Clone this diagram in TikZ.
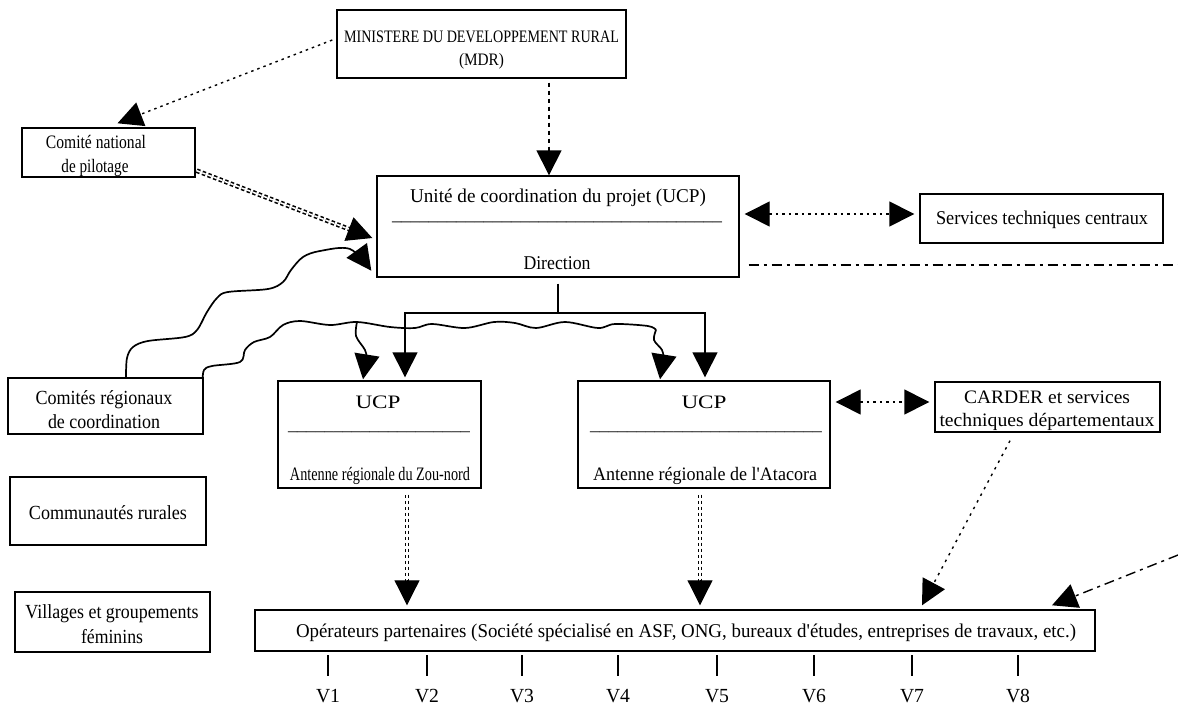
\documentclass[tikz,border=0pt]{standalone}
\usepackage{fontspec}
\setmainfont{Liberation Serif}[Ligatures=TeXOff]
\usetikzlibrary{arrows.meta,calc}
\newcommand\fitw[2]{\resizebox*{#1pt}{\totalheight}{#2}}
\newcommand\fsz[1]{\fontsize{#1}{#1}\selectfont}
\begin{document}
\begin{tikzpicture}[x=1pt,y=-1pt,
  box/.style={draw,line width=1.4pt,inner sep=0pt},
  txt/.style={inner sep=0pt,anchor=base},
  hd/.style={-{Triangle[width=25pt,length=25pt]}},
  dhd/.style={{Triangle[width=25pt,length=25pt]}-{Triangle[width=25pt,length=25pt]}},
  dots/.style={line width=1.4pt,dash pattern=on 2.5pt off 4pt},
  vdots/.style={line width=1.5pt,dash pattern=on 4pt off 4pt},
  ddot/.style={double,line width=1.6pt,double distance=1.5pt,dash pattern=on 3.5pt off 2.5pt},
  ddash/.style={line width=1.4pt,dash pattern=on 10pt off 5pt on 3pt off 5pt},
  wave/.style={line width=1.7pt},
  solid1/.style={line width=1.4pt}]
\fill[white] (0,0) rectangle (1178,706);
\useasboundingbox (0,0) rectangle (1178,706);

% ---------- boxes ----------
\node[box,minimum width=289pt,minimum height=68pt] (mdr) at (481.5,44) {};
\node[box,minimum width=173pt,minimum height=49pt] (cnp) at (108.5,152.5) {};
\node[box,minimum width=362pt,minimum height=101pt] (ucp) at (558,226.5) {};
\node[box,minimum width=243pt,minimum height=49pt] (svc) at (1041.5,218.5) {};
\node[box,minimum width=195pt,minimum height=56pt] (crr) at (105.5,406) {};
\node[box,minimum width=196pt,minimum height=68pt] (com) at (108,511) {};
\node[box,minimum width=195pt,minimum height=60pt] (vil) at (112.5,622) {};
\node[box,minimum width=203pt,minimum height=107pt] (zou) at (379.5,434.5) {};
\node[box,minimum width=252pt,minimum height=107pt] (ata) at (704,434.5) {};
\node[box,minimum width=225pt,minimum height=50pt] (car) at (1047.5,407) {};
\node[box,minimum width=840pt,minimum height=41pt] (ope) at (675,630.5) {};

% ---------- texts ----------
\node[txt] (mdr1) at (481.5,43) {\fsz{17.5}\fitw{275}{MINISTERE DU DEVELOPPEMENT RURAL}};
\node[txt] (mdr2) at (481.5,66) {\fsz{17.5}\fitw{45}{(MDR)}};
\node[txt] (cnp1) at (96,149) {\fsz{19}\fitw{100}{Comité national}};
\node[txt] (cnp2) at (95,172) {\fsz{19}\fitw{67}{de pilotage}};
\node[txt] (ucp1) at (558,202) {\fsz{19.5}\fitw{296}{Unité de coordination du projet (UCP)}};
\node[txt] (ucp2) at (557,221) {\fsz{18}\fitw{330}{\_\_\_\_\_\_\_\_\_\_\_\_\_\_\_\_\_\_\_\_\_\_\_\_\_\_\_\_\_\_\_\_\_\_\_\_}};
\node[txt] (ucp3) at (557,269) {\fsz{19.5}\fitw{67}{Direction}};
\node[txt] (svc1) at (1042,225) {\fsz{19.5}\fitw{212}{Services techniques centraux}};
\node[txt] (crr1) at (104,404) {\fsz{20}\fitw{137}{Comités régionaux}};
\node[txt] (crr2) at (104,428) {\fsz{20}\fitw{112}{de coordination}};
\node[txt] (com1) at (108,519) {\fsz{20}\fitw{158}{Communautés rurales}};
\node[txt] (vil1) at (112,618) {\fsz{20}\fitw{173}{Villages et groupements}};
\node[txt] (vil2) at (112,643) {\fsz{20}\fitw{62}{féminins}};
\node[txt] (zou1) at (378,408) {\fsz{19}\fitw{45}{UCP}};
\node[txt] (zou2) at (379,430) {\fsz{17}\fitw{182}{\_\_\_\_\_\_\_\_\_\_\_\_\_\_\_\_\_\_\_\_}};
\node[txt] (zou3) at (380,480) {\fsz{19}\fitw{180}{Antenne régionale du Zou-nord}};
\node[txt] (ata1) at (704,408) {\fsz{19}\fitw{45}{UCP}};
\node[txt] (ata2) at (706,430) {\fsz{17}\fitw{232}{\_\_\_\_\_\_\_\_\_\_\_\_\_\_\_\_\_\_\_\_\_\_\_\_\_}};
\node[txt] (ata3) at (705,480) {\fsz{19}\fitw{224}{Antenne régionale de l'Atacora}};
\node[txt] (car1) at (1047,403) {\fsz{19}\fitw{166}{CARDER et services}};
\node[txt] (car2) at (1047,426) {\fsz{19}\fitw{215}{techniques départementaux}};
\node[txt] (ope1) at (686,637) {\fsz{19.5}\fitw{780}{Opérateurs partenaires (Société spécialisé en ASF, ONG, bureaux d'études, entreprises de travaux, etc.)}};
\foreach \n/\x in {1/328,2/427,3/522,4/618,5/717,6/814,7/912,8/1018}{
  \node[txt] (v\n) at (\x,702) {\fsz{20}\fitw{24}{V\n}};
  \draw[solid1] ([yshift=13pt]v\n.north) -- ++(0,-21);
}

% ---------- named end points ----------
\coordinate (a1s) at ([xshift=-4pt,yshift=4pt]mdr.west);
\coordinate (a1t) at ([shift={(9pt,4pt)}]cnp.north);
\coordinate (a2s) at ([shift={(-9pt,-4pt)}]ucp.north |- mdr.south);
\coordinate (a2t) at ([xshift=-9pt]ucp.north);
\coordinate (a3s) at ([shift={(1pt,7pt)}]cnp.south east);
\coordinate (a3t) at ([shift={(-4pt,-11.5pt)}]ucp.west);
\coordinate (a4s) at ([shift={(5pt,12.5pt)}]ucp.east);
\coordinate (a4t) at ([shift={(-5pt,4.5pt)}]svc.west);
\coordinate (dd1s) at ([shift={(9pt,-38.5pt)}]ucp.east);
\coordinate (dd1e) at (1178,265);
\coordinate (jn) at (558,313);
\coordinate (a5s) at ([shift={(5pt,32.5pt)}]ata.east);
\coordinate (a5t) at ([shift={(-5pt,5pt)}]car.west);
\coordinate (z1) at ([shift={(27.5pt,-6pt)}]zou.south);
\coordinate (z2) at ([shift={(-268pt,4pt)}]ope.north);
\coordinate (t1) at ([shift={(-4pt,-6pt)}]ata.south);
\coordinate (t2) at ([shift={(25pt,4pt)}]ope.north);
\coordinate (c1) at ([shift={(-37.5pt,-8pt)}]car.south);
\coordinate (c2) at ([shift={(247pt,4pt)}]ope.north);
\coordinate (dd2s) at (1178,555);
\coordinate (dd2e) at ([shift={(377pt,4pt)}]ope.north);
\coordinate (w1s) at ([xshift=20.5pt]crr.north);
\coordinate (w1t) at ([shift={(-5pt,7pt)}]ucp.south west);
\coordinate (w2s) at ([shift={(-1pt,-2pt)}]crr.north east);
\coordinate (w2a) at ([shift={(-16.5pt,1pt)}]zou.north);
\coordinate (w2b) at ([shift={(-44pt,1pt)}]ata.north);

% ---------- connectors ----------
\draw[dots,hd] (a1s) -- (a1t);
\draw[vdots,hd] (a2s) -- (a2t);
\draw[ddot] (a3s) -- ($(a3t)!20pt!(a3s)$);
\draw[hd,line width=1pt] ($(a3t)!25pt!(a3s)$) -- (a3t);
\draw[dots,dhd] (a4s) -- (a4t);
\draw[ddash] (dd1s) -- (dd1e);
\draw[solid1] ([yshift=-6pt]ucp.south) -- (jn);
\draw[solid1,hd] (jn) -| ([shift={(25.5pt,3pt)}]zou.north);
\draw[solid1,hd] (jn) -| ([shift={(1pt,3pt)}]ata.north);
\draw[dots,dhd] (a5s) -- (a5t);
\draw[ddot] (z1) -- ($(z2)!20pt!(z1)$);
\draw[hd,line width=1pt] ($(z2)!25pt!(z1)$) -- (z2);
\draw[ddot] (t1) -- ($(t2)!20pt!(t1)$);
\draw[hd,line width=1pt] ($(t2)!25pt!(t1)$) -- (t2);
\draw[dots,dash pattern=on 2.5pt off 5pt,hd] (c1) -- (c2);
\draw[ddash,hd] (dd2s) -- (dd2e);

% wavy line 1
\draw[wave,hd] plot[smooth,tension=0.55] coordinates {(w1s) (127,358) (133,347) (148,341) (185,337) (197,330) (207,312) (217,298) (228,292) (268,289) (283,282) (291,270) (303,257) (320,251) (350,249) (w1t)};
% wavy line 2
\draw[wave] plot[smooth,tension=0.55] coordinates {(w2s) (204,370) (212,366) (240,362) (245,350) (254,342) (270,337) (283,325) (300,321) (330,325) (357,322) (390,327) (415,328) (432,324) (465,328) (494,322) (515,323) (536,328) (565,322) (598,328) (615,324) (648,326) (656,330)};
\draw[wave,hd] plot[smooth,tension=0.55] coordinates {(357,322) (356,336) (365,350) (366,358) (w2a)};
\draw[wave,hd] plot[smooth,tension=0.55] coordinates {(656,330) (654,340) (662,350) (663,358) (w2b)};
\end{tikzpicture}
\end{document}
